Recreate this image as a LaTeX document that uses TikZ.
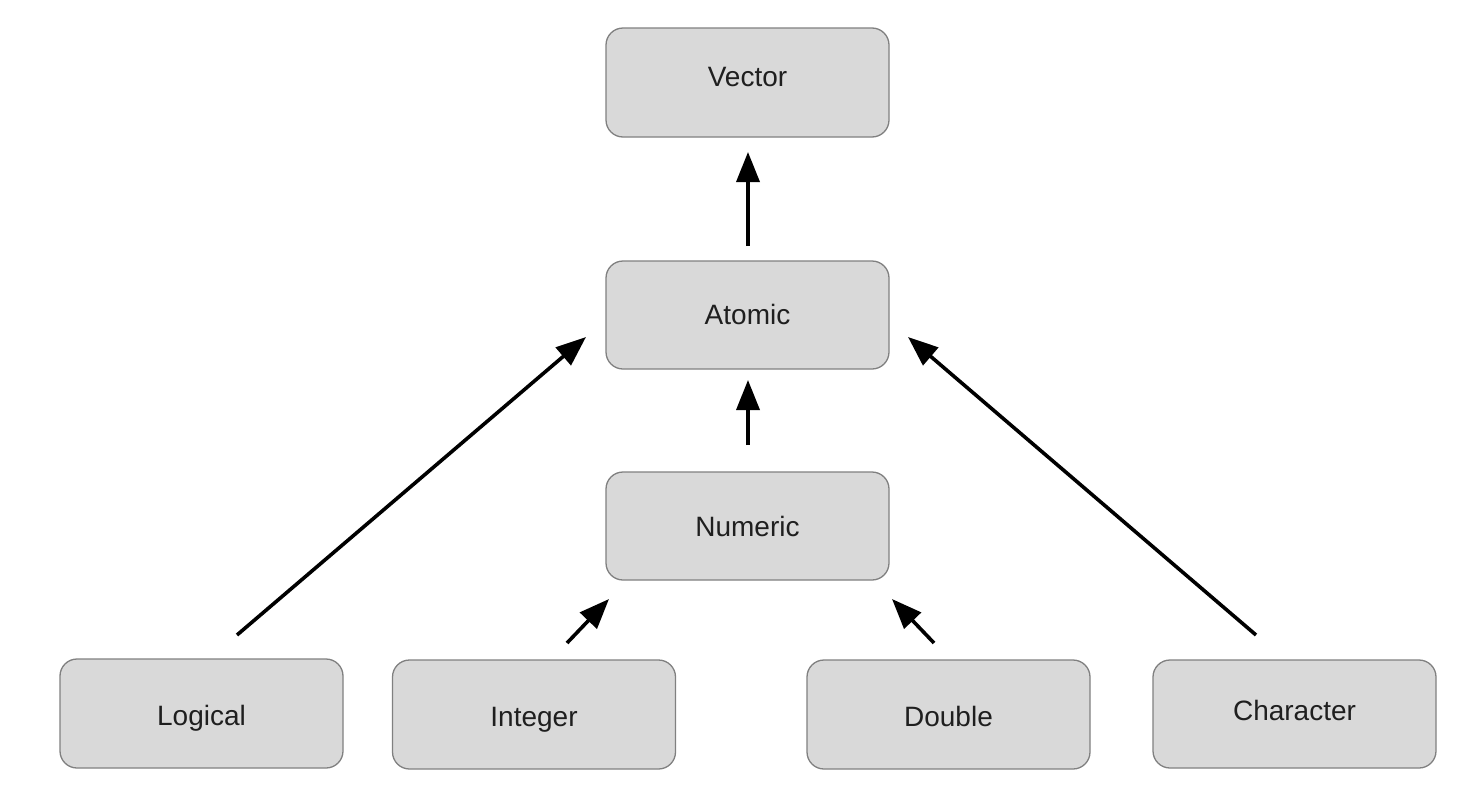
\documentclass[tikz,border=0pt]{standalone}
\usepackage{fontspec}
\setmainfont{Liberation Sans}
\usetikzlibrary{arrows.meta}
\begin{document}
\begin{tikzpicture}[x=1pt,y=-1pt,
  box/.style={draw=black!50, line width=1.3pt, fill=black!15, rounded corners=17pt,
    text width=283pt, align=center, inner sep=0pt, font=\fontsize{28}{31}\selectfont, text=black!88},
  tb/.style 2 args={text height=#1pt, text depth=#2pt},
  arr/.style={line width=3.6pt, -{Triangle[length=30pt,width=23pt]}}]
\useasboundingbox (0,0) rectangle (1472,790);
\node[box,tb={58.7}{50.3}] (vector) at (747.5,82.5) {Vector};
\node[box,tb={63}{45}] (atomic) at (747.5,315) {Atomic};
\node[box,tb={64}{44}] (numeric) at (747.5,526) {Numeric};
\node[box,tb={66}{43}] (logical) at (201.5,713.5) {Logical};
\node[box,tb={66}{43}] (integer) at (534,714.5) {Integer};
\node[box,tb={66}{43}] (double) at (948.5,714.5) {Double};
\node[box,tb={60}{48}] (character) at (1294.5,714) {Character};
% connector end points
\coordinate (a1) at (748,246); \coordinate (v1) at (748,152);
\coordinate (n1) at (748,445); \coordinate (a2) at (748,380);
\coordinate (l1) at (237,635); \coordinate (a3) at (586,337);
\coordinate (c1) at (1256,635); \coordinate (a4) at (908,337);
\coordinate (i1) at (567,643); \coordinate (n2) at (609,599);
\coordinate (d1) at (934,643); \coordinate (n3) at (892,599);
\draw[arr] (a1) -- (v1);
\draw[arr] (n1) -- (a2);
\draw[arr] (l1) -- (a3);
\draw[arr] (c1) -- (a4);
\draw[arr] (i1) -- (n2);
\draw[arr] (d1) -- (n3);
\end{tikzpicture}
\end{document}
